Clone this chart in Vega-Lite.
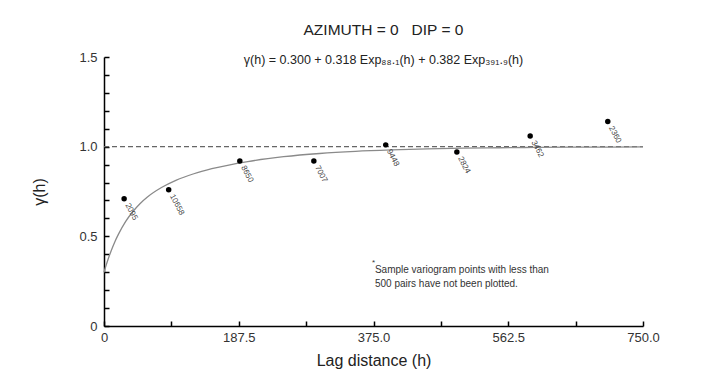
{
  "$schema": "https://vega.github.io/schema/vega-lite/v6.json",
  "width": 539,
  "height": 269,
  "autosize": {"type": "none"},
  "padding": {"left": 104, "top": 57, "right": 77, "bottom": 59},
  "background": "white",
  "config": {
    "view": {"stroke": null},
    "font": "Liberation Sans"
  },
  "title": {
    "text": "AZIMUTH = 0\u00a0\u00a0\u00a0DIP = 0",
    "subtitle": "γ(h) = 0.300 + 0.318 Exp₈₈.₁(h) + 0.382 Exp₃₉₁.₉(h)",
    "anchor": "middle",
    "fontSize": 15.5,
    "fontWeight": "normal",
    "color": "#222",
    "subtitleFontSize": 12.5,
    "subtitleColor": "#222",
    "subtitlePadding": 15,
    "offset": -15,
    "dx": 10
  },
  "datasets": {
    "points": [
      {"h": 28, "gamma": 0.71, "pairs": "2095"},
      {"h": 90, "gamma": 0.76, "pairs": "10658"},
      {"h": 189, "gamma": 0.92, "pairs": "8650"},
      {"h": 292, "gamma": 0.92, "pairs": "7007"},
      {"h": 392, "gamma": 1.01, "pairs": "9448"},
      {"h": 491, "gamma": 0.97, "pairs": "2824"},
      {"h": 593, "gamma": 1.06, "pairs": "3462"},
      {"h": 701, "gamma": 1.14, "pairs": "2360"}
    ],
    "model": [
      {"h": 0, "gamma": 0.300},
      {"h": 2.5, "gamma": 0.333},
      {"h": 5, "gamma": 0.364},
      {"h": 10, "gamma": 0.420},
      {"h": 15, "gamma": 0.469},
      {"h": 20, "gamma": 0.511},
      {"h": 30, "gamma": 0.582},
      {"h": 40, "gamma": 0.637},
      {"h": 50, "gamma": 0.682},
      {"h": 60, "gamma": 0.718},
      {"h": 80, "gamma": 0.772},
      {"h": 100, "gamma": 0.812},
      {"h": 125, "gamma": 0.849},
      {"h": 150, "gamma": 0.877},
      {"h": 200, "gamma": 0.917},
      {"h": 250, "gamma": 0.944},
      {"h": 300, "gamma": 0.962},
      {"h": 350, "gamma": 0.974},
      {"h": 400, "gamma": 0.982},
      {"h": 450, "gamma": 0.988},
      {"h": 500, "gamma": 0.992},
      {"h": 550, "gamma": 0.994},
      {"h": 600, "gamma": 0.996},
      {"h": 650, "gamma": 0.997},
      {"h": 700, "gamma": 0.998},
      {"h": 750, "gamma": 0.999}
    ],
    "sill": [
      {"h": 0, "gamma": 1.0},
      {"h": 750, "gamma": 1.0}
    ],
    "note": [
      {"h": 377, "gamma": 0.31, "star": "*", "text": ["Sample variogram points with less than", "500 pairs have not been plotted."]}
    ]
  },
  "layer": [
    {
      "data": {"name": "sill"},
      "mark": {"type": "line", "color": "#666", "strokeDash": [5, 3], "strokeWidth": 1.3},
      "encoding": {
        "x": {
          "field": "h", "type": "quantitative",
          "scale": {"domain": [0, 750], "nice": false, "zero": true},
          "axis": {
            "title": "Lag distance (h)",
            "titleFontSize": 16, "titleFontWeight": "normal", "titleColor": "#222", "titlePadding": 8,
            "values": [0, 93.75, 187.5, 281.25, 375, 468.75, 562.5, 656.25, 750],
            "tickCount": 20,
            "labelExpr": "datum.value == 0 ? '0' : (datum.value % 187.5 == 0 ? format(datum.value, '.1f') : '')",
            "labelFontSize": 13, "labelColor": "#333", "labelPadding": 10,
            "labelOverlap": false,
            "tickSize": -5, "tickColor": "#000", "tickWidth": 1.5,
            "domainColor": "#000", "domainWidth": 1.5, "grid": false, "labelFlush": false
          }
        },
        "y": {
          "field": "gamma", "type": "quantitative",
          "scale": {"domain": [0, 1.5], "nice": false},
          "axis": {
            "title": "γ(h)",
            "titleFontSize": 16, "titleFontWeight": "normal", "titleColor": "#222", "titlePadding": 31,
            "values": [0, 0.1, 0.2, 0.3, 0.4, 0.5, 0.6, 0.7, 0.8, 0.9, 1.0, 1.1, 1.2, 1.3, 1.4, 1.5],
            "tickCount": 30,
            "labelExpr": "round(datum.value * 10) == 0 ? '0' : (round(datum.value * 10) % 5 == 0 ? format(datum.value, '.1f') : '')",
            "labelFontSize": 13, "labelColor": "#333", "labelPadding": 12,
            "labelOverlap": false,
            "tickSize": -5, "tickColor": "#000", "tickWidth": 1.5,
            "domainColor": "#000", "domainWidth": 1.5, "grid": false, "labelFlush": false
          }
        }
      }
    },
    {
      "data": {"name": "model"},
      "mark": {"type": "line", "color": "#8a8a8a", "strokeWidth": 1.3, "interpolate": "monotone"},
      "encoding": {
        "x": {"field": "h", "type": "quantitative"},
        "y": {"field": "gamma", "type": "quantitative"}
      }
    },
    {
      "data": {"name": "points"},
      "mark": {"type": "circle", "color": "#000", "size": 30, "opacity": 1},
      "encoding": {
        "x": {"field": "h", "type": "quantitative"},
        "y": {"field": "gamma", "type": "quantitative"}
      }
    },
    {
      "data": {"name": "points"},
      "mark": {"type": "text", "angle": 62, "align": "left", "baseline": "middle", "dx": 6, "dy": 0, "fontSize": 8, "color": "#444"},
      "encoding": {
        "x": {"field": "h", "type": "quantitative"},
        "y": {"field": "gamma", "type": "quantitative"},
        "text": {"field": "pairs"}
      }
    },
    {
      "data": {"name": "note"},
      "mark": {"type": "text", "align": "left", "baseline": "middle", "fontSize": 10, "color": "#333", "lineHeight": 14},
      "encoding": {
        "x": {"field": "h", "type": "quantitative"},
        "y": {"field": "gamma", "type": "quantitative"},
        "text": {"field": "text"}
      }
    },
    {
      "data": {"name": "note"},
      "mark": {"type": "text", "align": "left", "baseline": "middle", "fontSize": 8, "color": "#333", "dx": -3, "dy": -7},
      "encoding": {
        "x": {"field": "h", "type": "quantitative"},
        "y": {"field": "gamma", "type": "quantitative"},
        "text": {"field": "star"}
      }
    }
  ]
}
